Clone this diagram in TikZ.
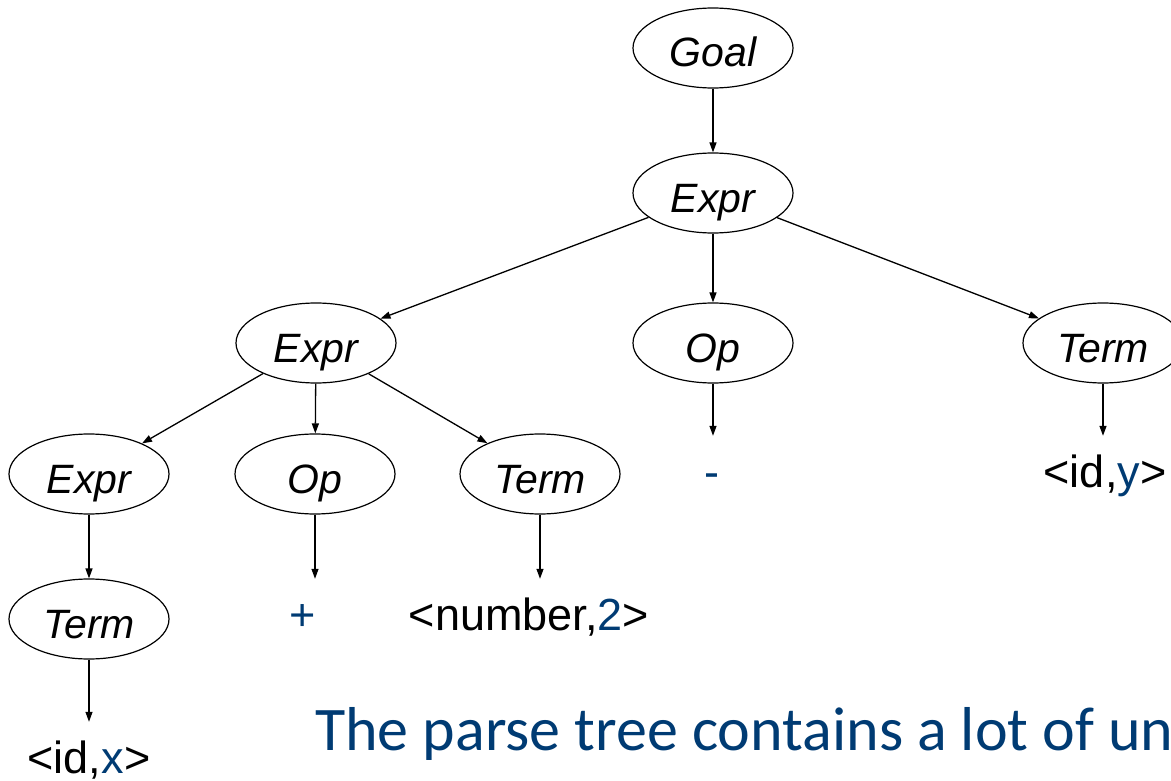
\documentclass[tikz,border=0pt]{standalone}
\usepackage{fontspec}
\setmainfont{Liberation Sans}
\newfontfamily\notefont{Carlito}
\usetikzlibrary{shapes.geometric,arrows.meta}
\definecolor{tokblue}{RGB}{0,59,115}
\tikzset{
  nonterm/.style={ellipse, draw, line width=1.2pt, minimum width=160pt, minimum height=80pt,
    inner sep=0pt, text height=38pt, text depth=0pt, font=\fontsize{41}{41}\selectfont\itshape},
  token/.style={anchor=base, inner sep=0pt, text height=51pt, text depth=10pt,
    font=\fontsize{45}{45}\selectfont},
  edge/.style={-{Triangle[length=10pt,width=7pt]}, line width=1.3pt},
}
\begin{document}
\begin{tikzpicture}[x=1pt, y=-1pt]
  \useasboundingbox (0,0) rectangle (1171,781);
  \clip (0,0) rectangle (1171,781);
  % nonterminals
  \node[nonterm] (goal) at (713,48) {Goal};
  \node[nonterm] (e0) at (713,193) {Expr};
  \node[nonterm] (e1) at (316,343) {Expr};
  \node[nonterm] (op1) at (713,343) {Op};
  \node[nonterm] (t1) at (1103,343) {Term};
  \node[nonterm] (e2) at (89,474) {Expr};
  \node[nonterm] (op2) at (315,474) {Op};
  \node[nonterm] (t2) at (540,474) {Term};
  \node[nonterm] (t3) at (89,619) {Term};
  % tokens
  \node[token] (minus) at (712,487) {\textcolor{tokblue}{-}};
  \node[token] (idy) at (1105,487) {<id,\textcolor{tokblue}{y}>};
  \node[token] (plus) at (303,630) {\textcolor{tokblue}{+}};
  \node[token] (num) at (529,630) {<number,\textcolor{tokblue}{2}>};
  \node[token] (idx) at (89,773) {<id,\textcolor{tokblue}{x}>};
  % edges
  \draw[edge] (goal) -- (e0);
  \draw[edge] (e0) -- (e1);
  \draw[edge] (e0) -- (op1);
  \draw[edge] (e0) -- (t1);
  \draw[edge] (e1) -- (e2);
  \draw[edge] (e1) -- (op2);
  \draw[edge] (e1) -- (t2);
  \draw[edge] (op1) -- (op1 |- minus.north);
  \draw[edge] (t1) -- (t1 |- idy.north);
  \draw[edge] (e2) -- (t3);
  \draw[edge] (op2) -- (op2 |- plus.north);
  \draw[edge] (t2) -- (t2 |- num.north);
  \draw[edge] (t3) -- (t3 |- idx.north);
  % remark
  \node[anchor=base west, inner sep=0pt, text=tokblue, font=\notefont\fontsize{62}{62}\selectfont]
    (note) at (315,750) {The parse tree contains a lot of un};
\end{tikzpicture}
\end{document}
